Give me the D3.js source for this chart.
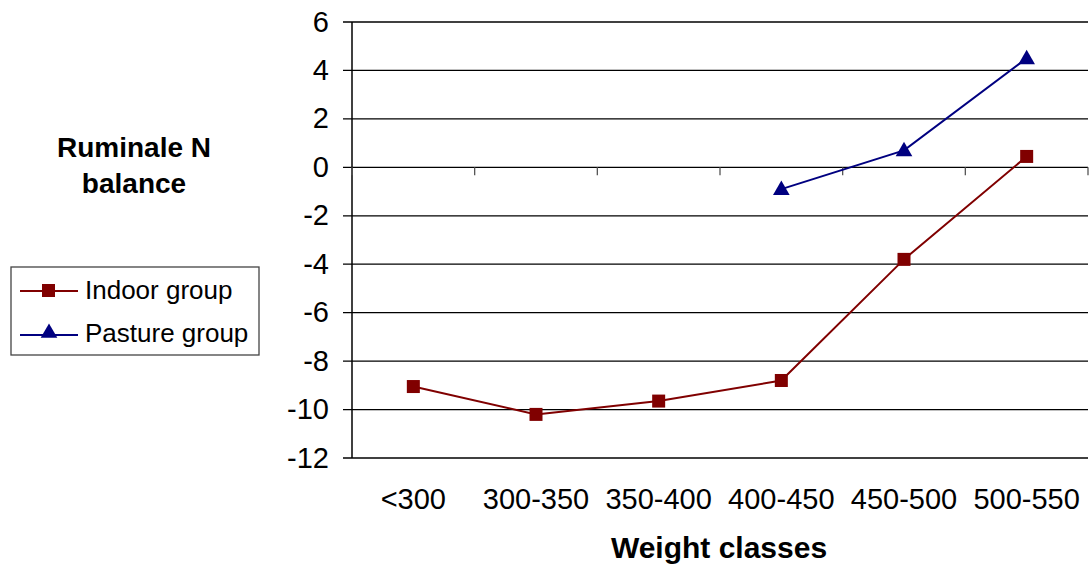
<!DOCTYPE html>
<html>
<head>
<meta charset="utf-8">
<script src="https://cdn.jsdelivr.net/npm/d3@7"></script>
<style>
  body { margin: 0; background: #fff; }
  text { font-family: Arial, "Liberation Sans", sans-serif; fill: #000; }
</style>
</head>
<body>
<div id="chart"></div>
<script>
var width = 1092, height = 570;

var categories = ["<300", "300-350", "350-400", "400-450", "450-500", "500-550"];
var indoorValues = [-9.05, -10.2, -9.65, -8.8, -3.8, 0.45];
var pastureCats = ["400-450", "450-500", "500-550"];
var pastureValues = [-0.9, 0.7, 4.5];
var yTicks = [6, 4, 2, 0, -2, -4, -6, -8, -10, -12];

var margin = {left: 352, right: 4, top: 22, bottom: 112};

var svg = d3.select("#chart").append("svg")
    .attr("width", width)
    .attr("height", height);

var x = d3.scaleBand()
    .domain(categories)
    .range([margin.left, width - margin.right]);

var y = d3.scaleLinear()
    .domain([-12, 6])
    .range([height - margin.bottom, margin.top]);

// grille horizontale
svg.append("g")
    .selectAll("line")
    .data(yTicks)
    .enter().append("line")
    .attr("x1", margin.left - 9)
    .attr("x2", width - margin.right)
    .attr("y1", d => y(d))
    .attr("y2", d => y(d))
    .attr("stroke", "#000")
    .attr("stroke-width", 1.3);

// axe Y
svg.append("line")
    .attr("x1", margin.left).attr("x2", margin.left)
    .attr("y1", y(6)).attr("y2", y(-12))
    .attr("stroke", "#000").attr("stroke-width", 1.5);

svg.append("g")
    .selectAll("text")
    .data(yTicks)
    .enter().append("text")
    .attr("x", margin.left - 23)
    .attr("y", d => y(d) + 9.5)
    .attr("text-anchor", "end")
    .style("font-size", "29px")
    .text(d => d);

// axe X au niveau 0, petits traits entre categories
var bounds = categories.map(c => x(c)).concat([x.range()[1]]);
svg.append("g")
    .selectAll("line")
    .data(bounds)
    .enter().append("line")
    .attr("x1", d => d).attr("x2", d => d)
    .attr("y1", y(0)).attr("y2", y(0) + 8)
    .attr("stroke", "#555").attr("stroke-width", 1.3);

svg.append("g")
    .selectAll("text")
    .data(categories)
    .enter().append("text")
    .attr("x", d => x(d) + x.bandwidth() / 2)
    .attr("y", 509)
    .attr("text-anchor", "middle")
    .style("font-size", "29px")
    .text(d => d);

// titres
svg.append("text")
    .attr("x", 719).attr("y", 558)
    .attr("text-anchor", "middle")
    .style("font-size", "30px").style("font-weight", "bold")
    .text("Weight classes");

var yTitle = svg.append("text")
    .attr("text-anchor", "middle")
    .style("font-size", "28px").style("font-weight", "bold");
yTitle.append("tspan").attr("x", 134).attr("y", 157).text("Ruminale N");
yTitle.append("tspan").attr("x", 134).attr("y", 193).text("balance");

// series
var cx = d => x(d) + x.bandwidth() / 2;
var line = d3.line().x(d => cx(d[0])).y(d => y(d[1]));

var indoor = d3.zip(categories, indoorValues);
var pasture = d3.zip(pastureCats, pastureValues);

svg.append("path")
    .datum(indoor)
    .attr("d", line)
    .attr("fill", "none")
    .attr("stroke", "#800000")
    .attr("stroke-width", 2);

svg.append("g")
    .selectAll("rect")
    .data(indoor)
    .enter().append("rect")
    .attr("x", d => cx(d[0]) - 6.5)
    .attr("y", d => y(d[1]) - 6.5)
    .attr("width", 13).attr("height", 13)
    .attr("fill", "#800000");

svg.append("path")
    .datum(pasture)
    .attr("d", line)
    .attr("fill", "none")
    .attr("stroke", "#000080")
    .attr("stroke-width", 2);

var tri = d3.symbol().type(d3.symbolTriangle).size(120);
svg.append("g")
    .selectAll("path")
    .data(pasture)
    .enter().append("path")
    .attr("d", tri)
    .attr("transform", d => "translate(" + cx(d[0]) + "," + (y(d[1]) + 1) + ")")
    .attr("fill", "#000080");

// legende
var leg = svg.append("g");
leg.append("rect")
    .attr("x", 11).attr("y", 267)
    .attr("width", 248).attr("height", 88)
    .attr("fill", "#fff")
    .attr("stroke", "#444").attr("stroke-width", 1.3);

leg.append("line")
    .attr("x1", 20).attr("x2", 78).attr("y1", 291).attr("y2", 291)
    .attr("stroke", "#800000").attr("stroke-width", 2);
leg.append("rect")
    .attr("x", 42).attr("y", 284).attr("width", 13).attr("height", 13)
    .attr("fill", "#800000");
leg.append("text")
    .attr("x", 85).attr("y", 299)
    .style("font-size", "26px")
    .text("Indoor group");

leg.append("line")
    .attr("x1", 20).attr("x2", 78).attr("y1", 335).attr("y2", 335)
    .attr("stroke", "#000080").attr("stroke-width", 2);
leg.append("path")
    .attr("d", tri)
    .attr("transform", "translate(49,333)")
    .attr("fill", "#000080");
leg.append("text")
    .attr("x", 85).attr("y", 342)
    .style("font-size", "26px")
    .text("Pasture group");
</script>
</body>
</html>
